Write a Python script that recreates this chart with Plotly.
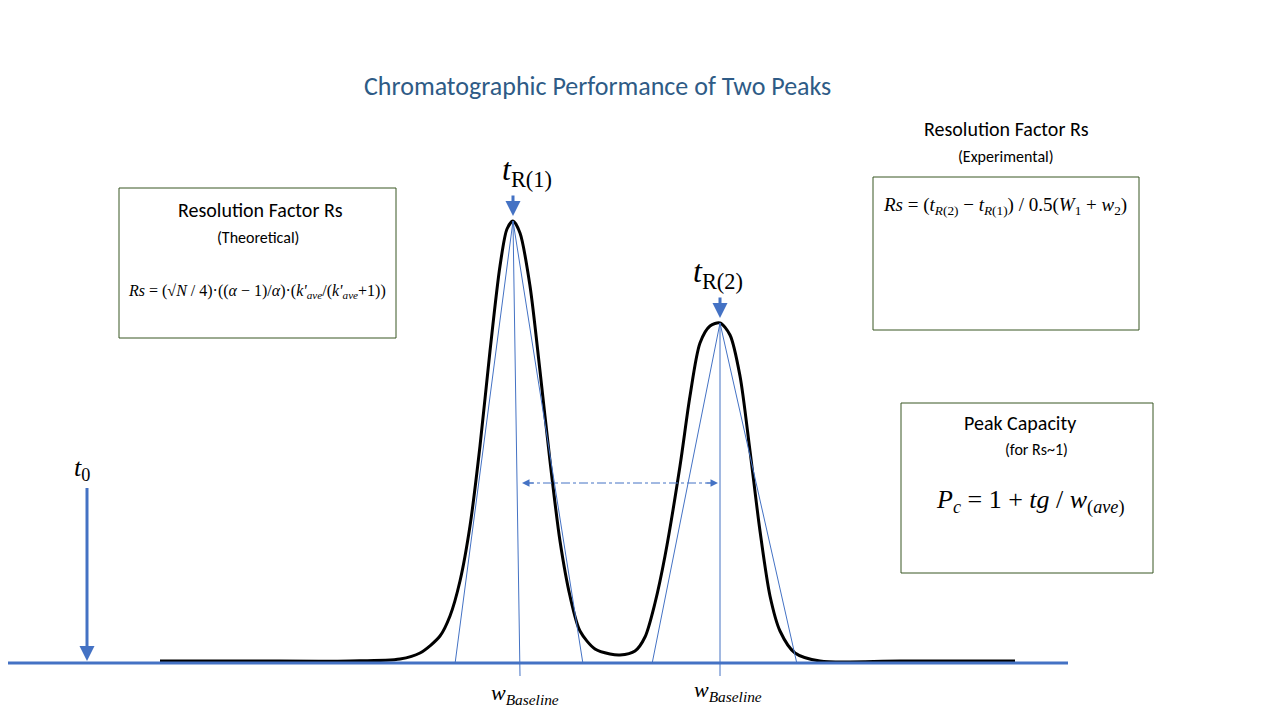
import plotly.graph_objects as go

# chromatogram trace (time units ~ px, signal units ~ px above baseline)
t = [160, 250, 350, 400, 420, 440, 450, 460, 470, 480, 490, 500, 507, 513, 520, 530, 540, 550, 560, 570,
     580, 595, 610, 620, 635, 645, 655, 665, 680, 690, 700, 710, 720, 730, 740, 750, 760, 770, 780, 795, 820, 900, 1015]
signal = [0, 0, 0, 2, 8, 25, 45, 80, 135, 215, 310, 395, 432, 440, 428, 375, 290, 200, 120, 65,
          30, 12, 7, 6, 10, 24, 58, 105, 195, 265, 318, 335, 338, 326, 285, 210, 130, 65, 30, 8, 0, 0, 0]
t0 = 87
tR1, hR1 = 513, 440
tR2, hR2 = 720, 338
wb1 = (455, 583)
wb2 = (652, 797)

fig = go.Figure()
fig.add_trace(go.Scatter(x=t, y=signal, mode="lines", line=dict(color="black", width=3, shape="spline", smoothing=0.8), hoverinfo="skip"))
blue = "#4472C4"
thin = dict(color=blue, width=1)
for a, b in [(wb1[0], tR1), (wb1[1], tR1), (wb2[0], tR2), (wb2[1], tR2)]:
    fig.add_shape(type="line", x0=a, y0=-3, x1=b, y1=(hR1 if b == tR1 else hR2), line=thin)
fig.add_shape(type="line", x0=tR1, y0=hR1, x1=tR1 + 7, y1=-15, line=thin)
fig.add_shape(type="line", x0=tR2, y0=hR2, x1=tR2, y1=-15, line=thin)
fig.add_shape(type="line", x0=0, y0=-2, x1=1068, y1=-2, line=dict(color=blue, width=3))
fig.add_shape(type="line", x0=t0, y0=173, x1=t0, y1=8, line=dict(color=blue, width=3))

def arrow(x, y, ay):
    fig.add_annotation(x=x, y=y, ax=x, ay=ay, xref="x", yref="y", axref="x", ayref="y",
                       showarrow=True, arrowhead=2, arrowsize=1, arrowwidth=3, arrowcolor=blue, text="")
arrow(t0, 0, 10)
arrow(tR1, 445, 467)
arrow(tR2, 343, 365)
fig.add_shape(type="line", x0=525, y0=178, x1=715, y1=178, line=dict(color=blue, width=1, dash="dashdot"))
for xa, xb in [(522, 535), (718, 705)]:
    fig.add_annotation(x=xa, y=178, ax=xb, ay=178, xref="x", yref="y", axref="x", ayref="y",
                       showarrow=True, arrowhead=2, arrowsize=1.5, arrowwidth=1, arrowcolor=blue, text="")

def txt(x, y, s, size, color="black", family="Times New Roman, Liberation Serif, serif"):
    fig.add_annotation(x=x, y=y, xref="x", yref="y", text=s, showarrow=False,
                       font=dict(size=size, color=color, family=family))

sans = "Calibri, Carlito, Open Sans, sans-serif"
txt(597, 575, "Chromatographic Performance of Two Peaks", 26, "#2E5B86", sans)
txt(527, 490, "<i>t</i><sub>R(1)</sub>", 32)
txt(718, 388, "<i>t</i><sub>R(2)</sub>", 32)
txt(82, 192, "<i>t</i><sub>0</sub>", 26)
txt(525, -33, "<i>w</i><sub><i>Baseline</i></sub>", 22)
txt(728, -30, "<i>w</i><sub><i>Baseline</i></sub>", 22)

for x0, y0, x1, y1 in [(119, 473, 396, 323), (873, 484, 1139, 331), (901, 258, 1153, 88)]:
    fig.add_shape(type="rect", x0=x0, y0=y0, x1=x1, y1=y1, line=dict(color="#385723", width=1), fillcolor="white")
txt(260, 451, "Resolution Factor Rs", 20, "black", sans)
txt(258, 424, "(Theoretical)", 16, "black", sans)
txt(257, 370, "<i>Rs</i> = (√<i>N</i> / 4)·((<i>α</i> − 1)/<i>α</i>)·(<i>k'</i><sub><i>ave</i></sub>/(<i>k'</i><sub><i>ave</i></sub>+1))", 16)
txt(1006, 532, "Resolution Factor Rs", 20, "black", sans)
txt(1006, 505, "(Experimental)", 16, "black", sans)
txt(1005, 455, "<i>Rs</i> = (<i>t</i><sub><i>R</i>(2)</sub> − <i>t</i><sub><i>R</i>(1)</sub>) / 0.5(<i>W</i><sub>1</sub> + <i>w</i><sub>2</sub>)", 19)
txt(1020, 238, "Peak Capacity", 20, "black", sans)
txt(1036, 212, "(for Rs~1)", 16, "black", sans)
txt(1030, 160, "<i>P</i><sub><i>c</i></sub> = 1 + <i>tg</i> / <i>w</i><sub>(<i>ave</i>)</sub>", 26)

fig.update_layout(width=1280, height=720, margin=dict(l=0, r=0, t=0, b=0), showlegend=False,
                  plot_bgcolor="white", paper_bgcolor="white",
                  xaxis=dict(range=[8, 1288], visible=False),
                  yaxis=dict(range=[-67, 653], visible=False))
fig.write_html("out.html")
